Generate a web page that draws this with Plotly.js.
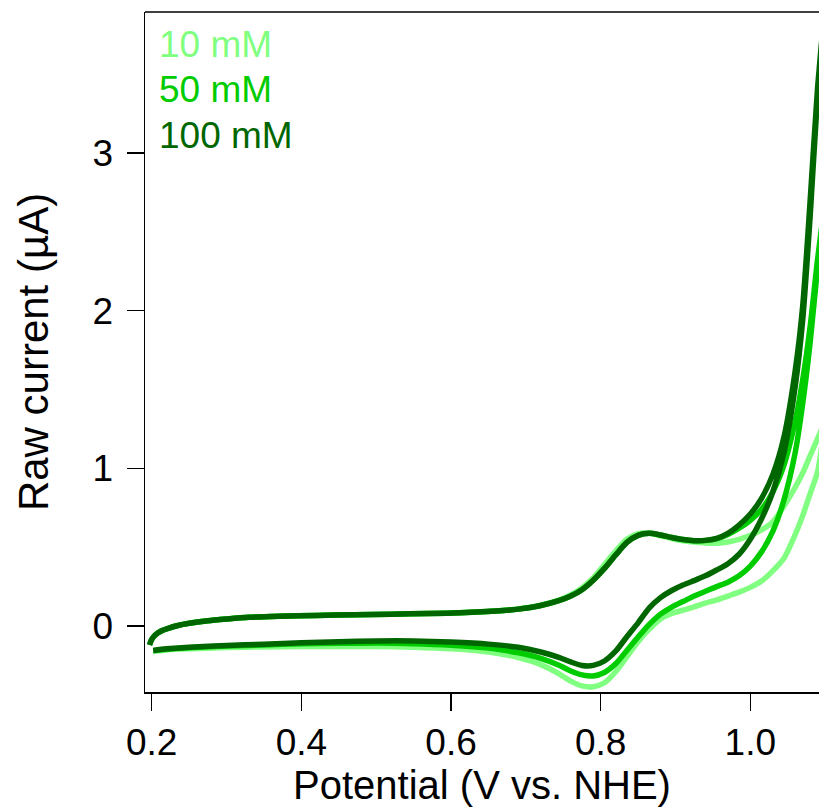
<!DOCTYPE html>
<html>
<head>
<meta charset="utf-8">
<script src="https://cdn.plot.ly/plotly-3.0.1.min.js"></script>
<style>html,body{margin:0;padding:0;background:#fff;}#chart{width:819px;height:811px;}</style>
</head>
<body>
<div id="chart"></div>
<script>
// Legend labels and colours
const seriesNames = ['10 mM', '50 mM', '100 mM'];
const seriesColors = ['#80ff80', '#00cc00', '#006600'];

// Forward scan potentials (V vs. NHE)
const potentialFwd = [0.197, 0.200, 0.205, 0.212, 0.222, 0.235, 0.25, 0.275, 0.30, 0.33, 0.37, 0.42, 0.47, 0.52, 0.57, 0.62, 0.66, 0.69, 0.72, 0.745, 0.76, 0.775, 0.79, 0.805, 0.82, 0.835, 0.85, 0.865, 0.88, 0.895, 0.91, 0.925, 0.94, 0.955, 0.97, 0.985, 1.0, 1.015, 1.03, 1.045, 1.06, 1.07, 1.08, 1.09, 1.1];
// Reverse scan potentials
const potentialRev = [1.1, 1.09, 1.08, 1.07, 1.06, 1.045, 1.03, 1.015, 1.0, 0.985, 0.97, 0.955, 0.94, 0.925, 0.91, 0.895, 0.88, 0.865, 0.85, 0.835, 0.82, 0.805, 0.79, 0.775, 0.76, 0.745, 0.72, 0.69, 0.65, 0.6, 0.55, 0.5, 0.45, 0.4, 0.35, 0.3, 0.25, 0.22, 0.202];

// Currents (µA), forward scan
const fwd10 = [-0.12, -0.085, -0.055, -0.033, -0.015, 0.003, 0.017, 0.033, 0.044, 0.055, 0.062, 0.067, 0.071, 0.075, 0.079, 0.085, 0.095, 0.108, 0.132, 0.166, 0.197, 0.242, 0.305, 0.39, 0.475, 0.55, 0.585, 0.588, 0.572, 0.555, 0.54, 0.532, 0.527, 0.525, 0.533, 0.55, 0.575, 0.61, 0.66, 0.76, 0.88, 0.97, 1.08, 1.19, 1.3];
const fwd50 = [-0.12, -0.085, -0.055, -0.033, -0.015, 0.003, 0.017, 0.033, 0.044, 0.055, 0.062, 0.067, 0.071, 0.075, 0.079, 0.085, 0.095, 0.107, 0.13, 0.162, 0.19, 0.23, 0.29, 0.365, 0.45, 0.53, 0.575, 0.588, 0.577, 0.561, 0.548, 0.541, 0.542, 0.553, 0.58, 0.62, 0.67, 0.74, 0.85, 1.02, 1.3, 1.56, 1.9, 2.33, 2.7];
const fwd100 = [-0.12, -0.085, -0.055, -0.033, -0.015, 0.003, 0.017, 0.033, 0.044, 0.055, 0.062, 0.067, 0.071, 0.075, 0.079, 0.085, 0.095, 0.107, 0.13, 0.162, 0.19, 0.23, 0.29, 0.365, 0.45, 0.53, 0.575, 0.588, 0.577, 0.561, 0.548, 0.541, 0.543, 0.556, 0.588, 0.64, 0.71, 0.81, 0.96, 1.2, 1.62, 2.03, 2.7, 3.42, 3.95];

// Currents (µA), reverse scan
const rev10 = [1.3, 0.98, 0.84, 0.7, 0.58, 0.43, 0.35, 0.285, 0.245, 0.215, 0.19, 0.165, 0.145, 0.122, 0.1, 0.08, 0.045, -0.02, -0.1, -0.195, -0.29, -0.36, -0.385, -0.38, -0.35, -0.305, -0.245, -0.2, -0.165, -0.145, -0.135, -0.13, -0.13, -0.13, -0.133, -0.137, -0.145, -0.152, -0.16];
const rev50 = [2.7, 2.28, 1.8, 1.41, 1.1, 0.8, 0.6, 0.47, 0.38, 0.318, 0.278, 0.25, 0.22, 0.19, 0.155, 0.12, 0.075, 0.01, -0.07, -0.155, -0.24, -0.295, -0.317, -0.31, -0.285, -0.25, -0.205, -0.17, -0.14, -0.122, -0.112, -0.108, -0.11, -0.113, -0.12, -0.127, -0.138, -0.147, -0.157];
const rev100 = [3.95, 3.37, 2.6, 1.94, 1.52, 1.1, 0.85, 0.68, 0.55, 0.455, 0.395, 0.355, 0.318, 0.288, 0.26, 0.225, 0.18, 0.115, 0.02, -0.068, -0.16, -0.222, -0.25, -0.25, -0.228, -0.2, -0.165, -0.135, -0.115, -0.102, -0.095, -0.095, -0.1, -0.107, -0.115, -0.123, -0.135, -0.145, -0.155];

// Axis ticks
const xTickVals = [0.2, 0.4, 0.6, 0.8, 1.0];
const xTickText = ['0.2', '0.4', '0.6', '0.8', '1.0'];
const yTickVals = [0, 1, 2, 3];
const yTickText = ['0', '1', '2', '3'];

const fwdSets = [fwd10, fwd50, fwd100];
const revSets = [rev10, rev50, rev100];

const FONT = 'Liberation Sans, Arial, Helvetica, sans-serif';

const traces = seriesNames.map((name, i) => ({
  type: 'scatter',
  mode: 'lines',
  name: name,
  x: potentialFwd.concat(potentialRev),
  y: fwdSets[i].concat(revSets[i]),
  line: {color: seriesColors[i], width: 5.5, shape: 'spline', smoothing: 0.7},
  showlegend: false,
  hoverinfo: 'skip'
}));

const legendY = [0.9515, 0.8853, 0.8191];
const annotations = seriesNames.map((name, i) => ({
  xref: 'paper', yref: 'paper',
  x: 0.0178, y: legendY[i],
  xanchor: 'left', yanchor: 'middle',
  text: name, showarrow: false,
  font: {family: FONT, size: 37, color: seriesColors[i]}
}));

const layout = {
  width: 819, height: 811,
  margin: {l: 145, r: 0, t: 12, b: 119},
  paper_bgcolor: '#ffffff', plot_bgcolor: '#ffffff',
  showlegend: false,
  xaxis: {
    range: [0.191, 1.0918],
    tickvals: xTickVals, ticktext: xTickText,
    ticks: 'outside', ticklen: 17, tickwidth: 1.5, tickcolor: '#000',
    showline: true, linecolor: '#000', linewidth: 1.5,
    showgrid: false, zeroline: false,
    tickfont: {family: FONT, size: 37, color: '#000'},
    title: {text: 'Potential (V vs. NHE)', font: {family: FONT, size: 40, color: '#000'}, standoff: 6},
    automargin: false
  },
  yaxis: {
    range: [-0.4186, 3.894],
    tickvals: yTickVals, ticktext: yTickText,
    ticks: 'outside', ticklen: 17, tickwidth: 1.5, tickcolor: '#000',
    ticklabelstandoff: 6,
    showline: true, linecolor: '#000', linewidth: 1.5,
    showgrid: false, zeroline: false,
    tickfont: {family: FONT, size: 37, color: '#000'},
    title: {text: 'Raw current (µA)', font: {family: FONT, size: 42, color: '#000'}, standoff: 31},
    automargin: false
  },
  shapes: [{
    type: 'line', xref: 'paper', yref: 'paper',
    x0: 0, x1: 1, y0: 1, y1: 1,
    line: {color: '#404040', width: 2}
  }],
  annotations: annotations
};

Plotly.newPlot('chart', traces, layout, {displayModeBar: false, staticPlot: true});
</script>
</body>
</html>
